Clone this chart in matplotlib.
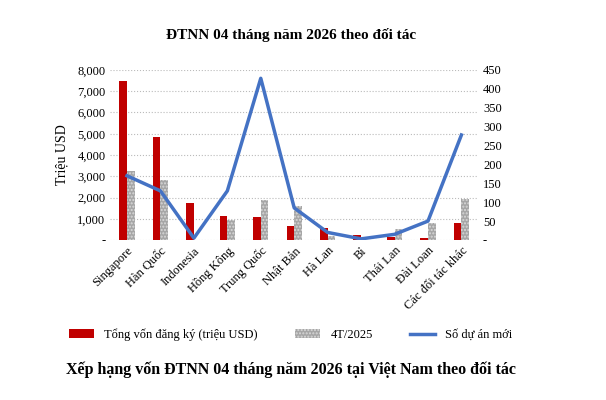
import matplotlib
matplotlib.use("Agg")
import matplotlib.pyplot as plt
import numpy as np
plt.rcParams['font.family'] = ['Liberation Serif', 'DejaVu Serif']

categories = ["Singapore", "Hàn Quốc", "Indonesia", "Hồng Kông", "Trung Quốc", "Nhật Bản",
              "Hà Lan", "Bỉ", "Thái Lan", "Đài Loan", "Các đối tác khác"]
von_2026 = [7480, 4830, 1730, 1150, 1080, 640, 560, 230, 150, 110, 820]
von_2025 = [3250, 2820, 0, 950, 1880, 1600, 200, 0, 500, 800, 1930]
so_du_an = [170, 130, 5, 130, 428, 85, 20, 3, 15, 50, 278]

fig = plt.figure(figsize=(6.06, 4.0), dpi=100)
ax = fig.add_axes([0.182, 0.40, 0.607, 0.425])
x = np.arange(len(categories))
w = 0.23
ax.bar(x - w/2, von_2026, w, color='#c00000', label='Tổng vốn đăng ký (triệu USD)', zorder=2)
ax.bar(x + w/2, von_2025, w, color='#a6a6a6', hatch='.....', edgecolor='#d9d9d9', linewidth=0,
       label='4T/2025', zorder=2)
ax.set_ylim(0, 8000)
ax.set_yticks(range(0, 8001, 1000))
ax.set_yticklabels(['-'] + [f"{v:,}" for v in range(1000, 8001, 1000)], fontsize=9)
ax.grid(axis='y', linestyle=':', color='#bbbbbb', linewidth=0.8, zorder=0)
ax.set_xlim(-0.5, len(categories) - 0.5)
ax.set_xticks(x)
ax.set_xticklabels(categories, rotation=45, ha='right', rotation_mode='anchor', fontsize=9)
ax.set_ylabel('Triệu USD', fontsize=10, labelpad=6)
for s in ax.spines.values():
    s.set_visible(False)
ax.tick_params(length=0)
ax2 = ax.twinx()
ax2.plot(x, so_du_an, color='#4472c4', linewidth=2.5, label='Số dự án mới')
ax2.set_ylim(0, 450)
ax2.set_yticks(range(0, 451, 50))
ax2.set_yticklabels(['-'] + [str(v) for v in range(50, 451, 50)], fontsize=9)
for s in ax2.spines.values():
    s.set_visible(False)
ax2.tick_params(length=0)

h1, l1 = ax.get_legend_handles_labels()
h2, l2 = ax2.get_legend_handles_labels()
fig.legend(h1 + h2, l1 + l2, loc='center', bbox_to_anchor=(0.48, 0.163), ncol=3,
           frameon=False, fontsize=9, columnspacing=3)
fig.text(0.48, 0.912, 'ĐTNN 04 tháng năm 2026 theo đối tác', ha='center', va='center',
         fontsize=11, fontweight='bold')
fig.text(0.48, 0.075, 'Xếp hạng vốn ĐTNN 04 tháng năm 2026 tại Việt Nam theo đối tác',
         ha='center', va='center', fontsize=11.5, fontweight='bold')
fig.savefig('out.png', dpi=100)
